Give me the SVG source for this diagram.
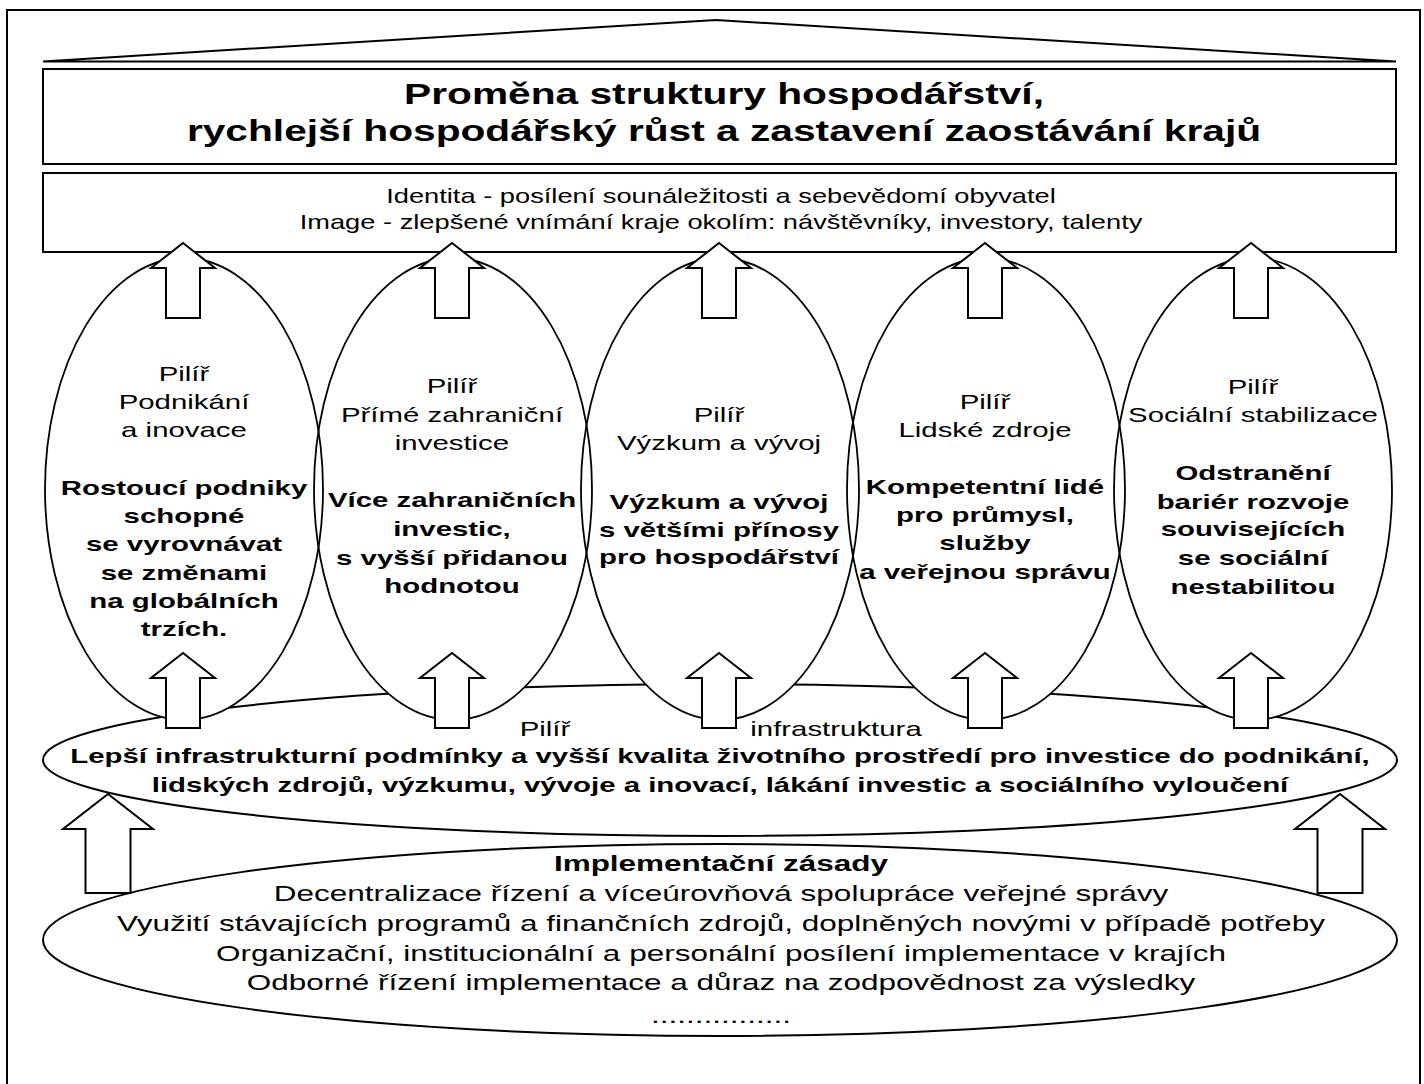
<svg xmlns="http://www.w3.org/2000/svg" width="1424" height="1084" viewBox="0 0 1424 1084">
  <style>
    .t { font-family: "Liberation Sans", Arial, sans-serif; fill: #000; text-anchor: middle; }
    .b { font-weight: bold; }
    .box { fill: #fff; stroke: #000; stroke-width: 2; }
    .ell { fill: none; stroke: #000; stroke-width: 1.8; }
    .bigell { fill: #fff; stroke: #000; stroke-width: 2; }
    .arr { fill: #fff; stroke: #000; stroke-width: 2; stroke-linejoin: miter; }
    .pil { font-size: 21px; }
    .ttl { font-size: 29.5px; }
    .idt { font-size: 20.5px; }
    .imp { font-size: 22.5px; }
  </style>
  <defs>
    <path id="upArrow" d="M0,0 L32,25 L17,25 L17,75 L-17,75 L-17,25 L-32,25 Z"/>
    <path id="sideArrow" d="M0,0 L45,35 L22.5,35 L22.5,99 L-22.5,99 L-22.5,35 L-45,35 Z"/>
    <mask id="infraMask" maskUnits="userSpaceOnUse" x="0" y="0" width="1424" height="1084">
      <rect x="0" y="0" width="1424" height="1084" fill="#fff"/>
      <ellipse cx="184" cy="489" rx="139" ry="231" fill="#000"/>
      <ellipse cx="453" cy="489" rx="139" ry="231" fill="#000"/>
      <ellipse cx="720" cy="489" rx="139" ry="231" fill="#000"/>
      <ellipse cx="986" cy="489" rx="139" ry="231" fill="#000"/>
      <ellipse cx="1253" cy="489" rx="139" ry="231" fill="#000"/>
    </mask>
  </defs>
  <rect x="0" y="0" width="1424" height="1084" fill="#fff"/>
  <rect id="frame" x="7" y="10" width="1413" height="1090" fill="none" stroke="#000" stroke-width="2"/>

  <g id="roof">
    <polygon points="43,61.5 716,20 1396,61.5" fill="#fff" stroke="#000" stroke-width="2"/>
  </g>

  <g id="goal">
    <rect class="box" x="43" y="69" width="1353" height="95"/>
    <g transform="translate(724 0) scale(1.38 1)">
      <text class="t b ttl" x="0" y="104">Proměna struktury hospodářství,</text>
      <text class="t b ttl" x="0" y="141">rychlejší hospodářský růst a zastavení zaostávání krajů</text>
    </g>
  </g>

  <g id="identity">
    <rect class="box" x="43" y="173" width="1353" height="79"/>
    <g transform="translate(721 0) scale(1.33 1)">
      <text class="t idt" x="0" y="203">Identita - posílení sounáležitosti a sebevědomí obyvatel</text>
      <text class="t idt" x="0" y="229">Image - zlepšené vnímání kraje okolím: návštěvníky, investory, talenty</text>
    </g>
  </g>

  <g id="infrastructure">
    <ellipse class="bigell" cx="720" cy="760" rx="677" ry="76" mask="url(#infraMask)"/>
    <g transform="translate(545 0) scale(1.4 1)">
      <text class="t pil" x="0" y="736">Pilíř</text>
    </g>
    <g transform="translate(836 0) scale(1.4 1)">
      <text class="t pil" x="0" y="736">infrastruktura</text>
    </g>
    <g transform="translate(720 0) scale(1.4 1)">
      <text class="t b pil" x="0" y="763">Lepší infrastrukturní podmínky a vyšší kvalita životního prostředí pro investice do podnikání,</text>
      <text class="t b pil" x="0" y="792">lidských zdrojů, výzkumu, vývoje a inovací, lákání investic a sociálního vyloučení</text>
    </g>
  </g>

  <g id="implementation">
    <ellipse class="bigell" cx="720" cy="940" rx="677" ry="96"/>
    <g transform="translate(721 0) scale(1.4 1)">
      <text class="t b imp" x="0" y="871">Implementační zásady</text>
      <text class="t imp" x="0" y="901">Decentralizace řízení a víceúrovňová spolupráce veřejné správy</text>
      <text class="t imp" x="0" y="931">Využití stávajících programů a finančních zdrojů, doplněných novými v případě potřeby</text>
      <text class="t imp" x="0" y="961">Organizační, institucionální a personální posílení implementace v krajích</text>
      <text class="t imp" x="0" y="990">Odborné řízení implementace a důraz na zodpovědnost za výsledky</text>
      <text class="t imp" x="0" y="1023">................</text>
    </g>
  </g>

  <g id="pillar-podnikani">
    <ellipse class="ell" cx="184" cy="489" rx="139" ry="231"/>
    <g transform="translate(184 0) scale(1.4 1)">
      <text class="t pil" x="0" y="381">Pilíř</text>
      <text class="t pil" x="0" y="409">Podnikání</text>
      <text class="t pil" x="0" y="437">a inovace</text>
      <text class="t b pil" x="0" y="495">Rostoucí podniky</text>
      <text class="t b pil" x="0" y="523">schopné</text>
      <text class="t b pil" x="0" y="551">se vyrovnávat</text>
      <text class="t b pil" x="0" y="580">se změnami</text>
      <text class="t b pil" x="0" y="608">na globálních</text>
      <text class="t b pil" x="0" y="636">trzích.</text>
    </g>
  </g>

  <g id="pillar-pzi">
    <ellipse class="ell" cx="453" cy="489" rx="139" ry="231"/>
    <g transform="translate(452 0) scale(1.4 1)">
      <text class="t pil" x="0" y="393">Pilíř</text>
      <text class="t pil" x="0" y="422">Přímé zahraniční</text>
      <text class="t pil" x="0" y="450">investice</text>
      <text class="t b pil" x="0" y="507">Více zahraničních</text>
      <text class="t b pil" x="0" y="536">investic,</text>
      <text class="t b pil" x="0" y="565">s vyšší přidanou</text>
      <text class="t b pil" x="0" y="593">hodnotou</text>
    </g>
  </g>

  <g id="pillar-vyzkum">
    <ellipse class="ell" cx="720" cy="489" rx="139" ry="231"/>
    <g transform="translate(719 0) scale(1.4 1)">
      <text class="t pil" x="0" y="422">Pilíř</text>
      <text class="t pil" x="0" y="450">Výzkum a vývoj</text>
      <text class="t b pil" x="0" y="509">Výzkum a vývoj</text>
      <text class="t b pil" x="0" y="537">s většími přínosy</text>
      <text class="t b pil" x="0" y="564">pro hospodářství</text>
    </g>
  </g>

  <g id="pillar-lidske">
    <ellipse class="ell" cx="986" cy="489" rx="139" ry="231"/>
    <g transform="translate(985 0) scale(1.4 1)">
      <text class="t pil" x="0" y="409">Pilíř</text>
      <text class="t pil" x="0" y="437">Lidské zdroje</text>
      <text class="t b pil" x="0" y="494">Kompetentní lidé</text>
      <text class="t b pil" x="0" y="522">pro průmysl,</text>
      <text class="t b pil" x="0" y="550">služby</text>
      <text class="t b pil" x="0" y="579">a veřejnou správu</text>
    </g>
  </g>

  <g id="pillar-socialni">
    <ellipse class="ell" cx="1253" cy="489" rx="139" ry="231"/>
    <g transform="translate(1253 0) scale(1.4 1)">
      <text class="t pil" x="0" y="394">Pilíř</text>
      <text class="t pil" x="0" y="422">Sociální stabilizace</text>
      <text class="t b pil" x="0" y="480">Odstranění</text>
      <text class="t b pil" x="0" y="509">bariér rozvoje</text>
      <text class="t b pil" x="0" y="536">souvisejících</text>
      <text class="t b pil" x="0" y="565">se sociální</text>
      <text class="t b pil" x="0" y="594">nestabilitou</text>
    </g>
  </g>

  <g id="connectors">
    <use href="#upArrow" class="arr" transform="translate(183 243)"/>
    <use href="#upArrow" class="arr" transform="translate(452 243)"/>
    <use href="#upArrow" class="arr" transform="translate(719 243)"/>
    <use href="#upArrow" class="arr" transform="translate(985 243)"/>
    <use href="#upArrow" class="arr" transform="translate(1251 243)"/>
    <use href="#upArrow" class="arr" transform="translate(183 653)"/>
    <use href="#upArrow" class="arr" transform="translate(452 653)"/>
    <use href="#upArrow" class="arr" transform="translate(719 653)"/>
    <use href="#upArrow" class="arr" transform="translate(985 653)"/>
    <use href="#upArrow" class="arr" transform="translate(1251 653)"/>
    <use href="#sideArrow" class="arr" transform="translate(108 794)"/>
    <use href="#sideArrow" class="arr" transform="translate(1340 794)"/>
  </g>
</svg>
